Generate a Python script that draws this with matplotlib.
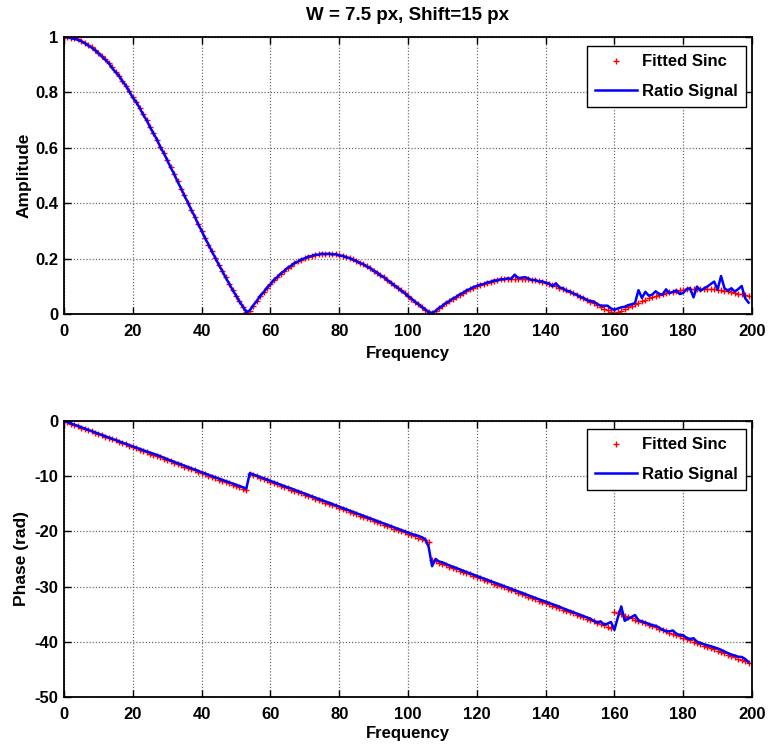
import numpy as np
import matplotlib
matplotlib.use("Agg")
import matplotlib.pyplot as plt

# ---------------- data ----------------
freq = np.arange(200)

amp_fit = [
    1.000, 0.999, 0.998, 0.995, 0.991, 0.986, 0.979, 0.972, 0.963, 0.954,
    0.943, 0.932, 0.919, 0.905, 0.890, 0.875, 0.858, 0.841, 0.823, 0.804,
    0.784, 0.764, 0.743, 0.721, 0.699, 0.676, 0.653, 0.629, 0.604, 0.580,
    0.555, 0.530, 0.505, 0.479, 0.453, 0.428, 0.402, 0.377, 0.351, 0.325,
    0.300, 0.275, 0.250, 0.226, 0.202, 0.178, 0.155, 0.132, 0.109, 0.088,
    0.066, 0.046, 0.026, 0.006, 0.012, 0.030, 0.047, 0.064, 0.079, 0.094,
    0.108, 0.122, 0.134, 0.145, 0.156, 0.166, 0.175, 0.183, 0.190, 0.196,
    0.202, 0.206, 0.210, 0.213, 0.215, 0.217, 0.217, 0.217, 0.216, 0.215,
    0.212, 0.209, 0.206, 0.201, 0.197, 0.191, 0.185, 0.179, 0.172, 0.165,
    0.157, 0.149, 0.140, 0.132, 0.123, 0.113, 0.104, 0.094, 0.085, 0.075,
    0.065, 0.055, 0.045, 0.035, 0.026, 0.016, 0.006, 0.003, 0.012, 0.021,
    0.030, 0.039, 0.047, 0.055, 0.062, 0.070, 0.077, 0.083, 0.089, 0.095,
    0.100, 0.105, 0.109, 0.113, 0.117, 0.120, 0.122, 0.125, 0.126, 0.127,
    0.128, 0.128, 0.128, 0.128, 0.127, 0.125, 0.123, 0.121, 0.118, 0.115,
    0.112, 0.108, 0.104, 0.100, 0.095, 0.091, 0.085, 0.080, 0.075, 0.069,
    0.063, 0.057, 0.051, 0.045, 0.038, 0.032, 0.026, 0.019, 0.013, 0.006,
    0.000, 0.006, 0.012, 0.018, 0.024, 0.030, 0.035, 0.041, 0.046, 0.051,
    0.056, 0.060, 0.064, 0.068, 0.072, 0.075, 0.078, 0.081, 0.083, 0.085,
    0.087, 0.089, 0.090, 0.091, 0.091, 0.091, 0.091, 0.091, 0.090, 0.089,
    0.088, 0.086, 0.084, 0.082, 0.080, 0.077, 0.074, 0.071, 0.067, 0.064,
]

amp_ratio = [
    1.000, 0.999, 0.996, 0.993, 0.990, 0.985, 0.978, 0.970, 0.962, 0.953,
    0.942, 0.930, 0.918, 0.906, 0.888, 0.873, 0.860, 0.840, 0.824, 0.803,
    0.781, 0.765, 0.744, 0.720, 0.700, 0.675, 0.652, 0.630, 0.603, 0.581,
    0.556, 0.529, 0.506, 0.478, 0.454, 0.427, 0.403, 0.376, 0.352, 0.324,
    0.301, 0.274, 0.251, 0.225, 0.203, 0.177, 0.156, 0.131, 0.110, 0.087,
    0.067, 0.045, 0.027, 0.007, 0.013, 0.031, 0.046, 0.065, 0.078, 0.095,
    0.107, 0.123, 0.133, 0.146, 0.155, 0.167, 0.174, 0.184, 0.189, 0.197,
    0.201, 0.207, 0.209, 0.214, 0.214, 0.218, 0.216, 0.218, 0.215, 0.216,
    0.211, 0.210, 0.205, 0.202, 0.196, 0.192, 0.184, 0.180, 0.171, 0.166,
    0.156, 0.150, 0.139, 0.133, 0.122, 0.114, 0.103, 0.095, 0.084, 0.076,
    0.064, 0.056, 0.044, 0.036, 0.025, 0.017, 0.007, 0.004, 0.011, 0.022,
    0.029, 0.040, 0.046, 0.056, 0.061, 0.071, 0.076, 0.085, 0.090, 0.097,
    0.101, 0.106, 0.108, 0.114, 0.116, 0.121, 0.121, 0.126, 0.125, 0.129,
    0.127, 0.142, 0.130, 0.131, 0.133, 0.128, 0.122, 0.123, 0.117, 0.118,
    0.113, 0.110, 0.100, 0.111, 0.096, 0.093, 0.084, 0.082, 0.074, 0.070,
    0.062, 0.058, 0.050, 0.047, 0.045, 0.036, 0.030, 0.030, 0.030, 0.020,
    0.015, 0.020, 0.024, 0.026, 0.032, 0.035, 0.040, 0.086, 0.058, 0.080,
    0.066, 0.070, 0.082, 0.072, 0.070, 0.089, 0.075, 0.080, 0.085, 0.072,
    0.076, 0.090, 0.093, 0.060, 0.099, 0.084, 0.092, 0.099, 0.108, 0.117,
    0.088, 0.137, 0.093, 0.084, 0.093, 0.081, 0.090, 0.101, 0.057, 0.041,
]

phase_fit = [
    0.00, -0.24, -0.47, -0.71, -0.94, -1.18, -1.41, -1.65, -1.88, -2.12,
    -2.36, -2.59, -2.83, -3.06, -3.30, -3.53, -3.77, -4.01, -4.24, -4.48,
    -4.71, -4.95, -5.18, -5.42, -5.65, -5.89, -6.13, -6.36, -6.60, -6.83,
    -7.07, -7.30, -7.54, -7.78, -8.01, -8.25, -8.48, -8.72, -8.95, -9.19,
    -9.42, -9.66, -9.90, -10.13, -10.37, -10.60, -10.84, -11.07, -11.31, -11.55,
    -11.78, -12.02, -12.25, -12.49, -9.58, -9.82, -10.05, -10.29, -10.52, -10.76,
    -11.00, -11.23, -11.47, -11.70, -11.94, -12.17, -12.41, -12.65, -12.88, -13.12,
    -13.35, -13.59, -13.82, -14.06, -14.30, -14.53, -14.77, -15.00, -15.24, -15.47,
    -15.71, -15.94, -16.18, -16.42, -16.65, -16.89, -17.12, -17.36, -17.59, -17.83,
    -18.06, -18.30, -18.54, -18.77, -19.01, -19.24, -19.48, -19.71, -19.95, -20.18,
    -20.42, -20.66, -20.89, -21.13, -21.36, -21.60, -21.83, -25.21, -25.45, -25.68,
    -25.92, -26.15, -26.39, -26.62, -26.86, -27.10, -27.33, -27.57, -27.80, -28.04,
    -28.27, -28.51, -28.75, -28.98, -29.22, -29.45, -29.69, -29.92, -30.16, -30.40,
    -30.63, -30.87, -31.10, -31.34, -31.57, -31.81, -32.04, -32.28, -32.52, -32.75,
    -32.99, -33.22, -33.46, -33.69, -33.93, -34.16, -34.40, -34.64, -34.87, -35.11,
    -35.34, -35.58, -35.81, -36.05, -36.29, -36.52, -36.76, -36.99, -37.23, -37.46,
    -34.56, -34.79, -35.03, -35.26, -35.50, -35.73, -35.97, -36.21, -36.44, -36.68,
    -36.91, -37.15, -37.38, -37.62, -37.85, -38.09, -38.33, -38.56, -38.80, -39.03,
    -39.27, -39.50, -39.74, -39.98, -40.21, -40.45, -40.68, -40.92, -41.15, -41.39,
    -41.63, -41.86, -42.10, -42.33, -42.57, -42.80, -43.04, -43.27, -43.51, -43.75,
]

phase_ratio = [
    0.00, -0.20, -0.44, -0.67, -0.90, -1.13, -1.36, -1.60, -1.83, -2.06,
    -2.30, -2.53, -2.77, -3.00, -3.23, -3.45, -3.69, -3.92, -4.15, -4.38,
    -4.62, -4.86, -5.07, -5.30, -5.52, -5.74, -5.93, -6.14, -6.40, -6.67,
    -6.92, -7.16, -7.40, -7.64, -7.87, -8.10, -8.33, -8.57, -8.80, -9.04,
    -9.28, -9.51, -9.74, -9.98, -10.21, -10.44, -10.67, -10.88, -11.11, -11.33,
    -11.55, -11.78, -12.00, -12.25, -9.45, -9.68, -9.90, -10.15, -10.38, -10.62,
    -10.85, -11.08, -11.32, -11.55, -11.78, -12.02, -12.22, -12.46, -12.70, -12.94,
    -13.18, -13.41, -13.65, -13.88, -14.10, -14.34, -14.57, -14.80, -15.04, -15.28,
    -15.52, -15.76, -15.99, -16.22, -16.46, -16.70, -16.93, -17.16, -17.40, -17.64,
    -17.88, -18.11, -18.34, -18.58, -18.80, -19.05, -19.28, -19.52, -19.76, -19.98,
    -20.22, -20.45, -20.62, -20.80, -21.05, -21.40, -22.80, -26.30, -25.00, -25.45,
    -25.60, -25.90, -26.15, -26.40, -26.62, -26.88, -27.12, -27.36, -27.60, -27.84,
    -28.06, -28.30, -28.54, -28.77, -29.00, -29.22, -29.46, -29.70, -29.93, -30.17,
    -30.40, -30.64, -30.87, -31.10, -31.35, -31.58, -31.82, -32.05, -32.28, -32.50,
    -32.75, -32.98, -33.20, -33.44, -33.64, -33.92, -34.16, -34.40, -34.64, -34.88,
    -35.12, -35.35, -35.58, -35.82, -36.20, -36.50, -36.30, -36.90, -36.70, -36.40,
    -37.85, -35.60, -33.60, -36.20, -35.80, -35.50, -35.15, -36.10, -36.30, -36.55,
    -36.75, -37.00, -37.10, -37.45, -37.80, -38.10, -38.10, -37.95, -38.55, -38.75,
    -38.80, -39.30, -39.50, -39.35, -40.00, -40.20, -40.45, -40.62, -40.80, -41.00,
    -41.20, -41.45, -41.75, -42.05, -42.30, -42.50, -42.70, -42.75, -43.10, -43.70,
]

title_text = "W = 7.5 px, Shift=15 px"
xticks = list(range(0, 201, 20))
amp_ticks = [0, 0.2, 0.4, 0.6, 0.8, 1]
amp_ticklabels = ["0", "0.2", "0.4", "0.6", "0.8", "1"]
phase_ticks = [-50, -40, -30, -20, -10, 0]

# ---------------- style ----------------
plt.rcParams['font.family'] = ['Liberation Sans', 'DejaVu Sans']
plt.rcParams['font.weight'] = 'bold'
plt.rcParams['axes.labelweight'] = 'bold'
plt.rcParams['axes.titleweight'] = 'bold'
plt.rcParams['axes.unicode_minus'] = False

fig = plt.figure(figsize=(7.68, 7.5), dpi=100)
W, H = 768, 750
L, R = 64, 752
ax1 = fig.add_axes([L / W, 1 - 314 / H, (R - L) / W, (314 - 37) / H])
ax2 = fig.add_axes([L / W, 1 - 697 / H, (R - L) / W, (697 - 421) / H])

red_kw = dict(linestyle='none', marker='+', color='#ff0000', markersize=4.5,
              markeredgewidth=1.0)
blue_kw = dict(color='#0000ff', linewidth=1.8)


def style(ax, yticks, ylabels, ylim):
    ax.set_xlim(0, 200)
    ax.set_ylim(*ylim)
    ax.set_xticks(xticks)
    ax.set_yticks(yticks)
    if ylabels is not None:
        ax.set_yticklabels(ylabels)
    ax.grid(True, linestyle=(0, (1, 1.5)), color='#6e6e6e', linewidth=0.9)
    ax.tick_params(direction='in', length=5, width=1, top=True, right=True,
                   labelsize=12)
    ax.tick_params(axis='x', pad=7)
    ax.tick_params(axis='y', pad=4)
    for s in ax.spines.values():
        s.set_linewidth(1.3)
    for lab in ax.get_xticklabels() + ax.get_yticklabels():
        lab.set_fontweight('bold')
    ax.set_axisbelow(True)


ax1.plot(freq, amp_fit, label='Fitted Sinc', **red_kw)
ax1.plot(freq, amp_ratio, label='Ratio Signal', **blue_kw)
style(ax1, amp_ticks, amp_ticklabels, (0, 1))
ax1.set_xlabel('Frequency', fontsize=12, labelpad=5)
ax1.set_ylabel('Amplitude', fontsize=12.5, labelpad=3)
ax1.set_title(title_text, fontsize=13.5, pad=12)

ax2.plot(freq, phase_fit, label='Fitted Sinc', **red_kw)
ax2.plot(freq, phase_ratio, label='Ratio Signal', **blue_kw)
style(ax2, phase_ticks, None, (-50, 0))
ax2.set_xlabel('Frequency', fontsize=12, labelpad=3)
ax2.set_ylabel('Phase (rad)', fontsize=12.5, labelpad=4)

for ax, yanch in ((ax1, 1 - 9 / 277), (ax2, 1 - 8 / 276)):
    leg = ax.legend(loc='upper right', bbox_to_anchor=(1 - 6 / 688, yanch),
                    borderaxespad=0, fancybox=False, framealpha=1,
                    edgecolor='black', numpoints=1, handlelength=2.5,
                    handletextpad=0.3, labelspacing=0.85, borderpad=0.5,
                    prop={'size': 12, 'weight': 'bold'})
    leg.get_frame().set_linewidth(1.0)
    for h in leg.legend_handles:
        if h.get_marker() == '+':
            h.set_markersize(5)

fig.savefig('out.png', dpi=100)
